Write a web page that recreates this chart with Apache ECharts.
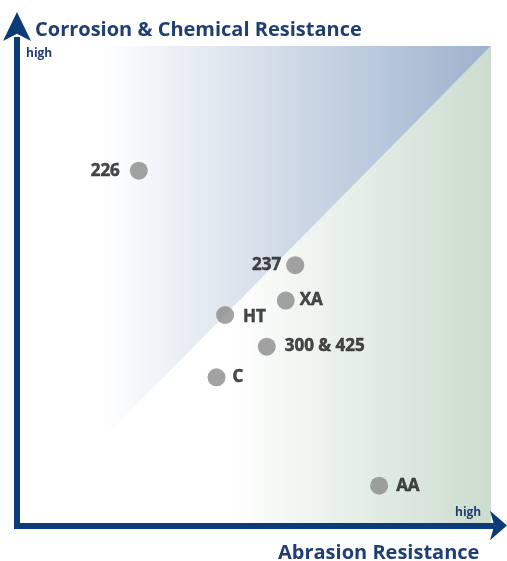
<!DOCTYPE html>
<html>
<head>
<meta charset="utf-8">
<script src="https://cdn.jsdelivr.net/npm/echarts@6/dist/echarts.min.js"></script>
<style>
  html, body { margin: 0; padding: 0; background: #ffffff; }
  #chart { width: 507px; height: 561px; }
</style>
</head>
<body>
<div id="chart"></div>
<script>
// Product grades positioned by abrasion vs. corrosion/chemical resistance
const grades = ['226', '237', 'XA', 'HT', '300 & 425', 'C', 'AA'];
const abrasion = [2.57, 5.87, 5.67, 4.39, 5.27, 4.21, 7.64];
const corrosion = [7.40, 5.43, 4.69, 4.39, 3.73, 3.09, 0.83];

// Background zones (data space, 0..10 on both axes)
const corrosionZone = [[0, 0], [0, 10], [10, 10]];
const abrasionZone = [[0, 0], [10, 0], [10, 10]];

const axisTitleY = 'Corrosion & Chemical Resistance';
const axisTitleX = 'Abrasion Resistance';
const highLabel = 'high';

// Label placement for each grade
const labelPlacement = {
  '226':       { position: 'left',  distance: 10, offset: [0, 0] },
  '237':       { position: 'left',  distance: 5,  offset: [0, 0] },
  'XA':        { position: 'right', distance: 5,  offset: [0, 0] },
  'HT':        { position: 'right', distance: 9,  offset: [0, 2] },
  '300 & 425': { position: 'right', distance: 9,  offset: [0, 0] },
  'C':         { position: 'right', distance: 7,  offset: [0, 0] },
  'AA':        { position: 'right', distance: 8,  offset: [0, 0] }
};

const NAVY = '#0b3c77';
const TEXT_NAVY = '#203e74';
const LABEL_INK = '#1a1a1a';
const FONT = '"Open Sans", "Noto Sans", sans-serif';

const chart = echarts.init(document.getElementById('chart'));

function zoneSeries(vertices, stops, z) {
  return {
    type: 'custom',
    silent: true,
    z: z,
    data: [0],
    renderItem: function (params, api) {
      const pts = vertices.map(function (v) { return api.coord(v); });
      return {
        type: 'polygon',
        shape: { points: pts },
        style: {
          fill: new echarts.graphic.LinearGradient(0, 0, 1, 0, stops),
          stroke: null
        }
      };
    }
  };
}

const option = {
  backgroundColor: '#ffffff',
  animation: false,
  title: [
    {
      text: axisTitleY, left: 35, top: 20, padding: 0,
      textStyle: { fontFamily: FONT, fontWeight: 'bold', fontSize: 20, color: TEXT_NAVY }
    },
    {
      text: axisTitleX, left: 278, top: 543, padding: 0,
      textStyle: { fontFamily: FONT, fontWeight: 'bold', fontSize: 20, color: TEXT_NAVY }
    },
    {
      text: highLabel, left: 26, top: 48, padding: 0,
      textStyle: { fontFamily: FONT, fontWeight: 'bold', fontSize: 12, color: TEXT_NAVY }
    },
    {
      text: highLabel, left: 455, top: 507, padding: 0,
      textStyle: { fontFamily: FONT, fontWeight: 'bold', fontSize: 12, color: TEXT_NAVY }
    }
  ],
  grid: { left: 17, right: 16, top: 40, bottom: 35.5 },
  xAxis: {
    type: 'value', min: 0, max: 10, z: 10,
    axisLine: {
      show: true, onZero: false,
      symbol: ['none', 'arrow'], symbolSize: [22, 17], symbolOffset: [0, 16],
      lineStyle: { color: NAVY, width: 6, cap: 'square' }
    },
    axisTick: { show: false }, axisLabel: { show: false }, splitLine: { show: false }
  },
  yAxis: {
    // a little headroom above 10 leaves room for the arrow shaft
    type: 'value', min: 0, max: 10.125, z: 10,
    axisLine: {
      show: true, onZero: false,
      symbol: ['none', 'arrow'], symbolSize: [21, 29], symbolOffset: [0, 28],
      lineStyle: { color: NAVY, width: 6, cap: 'square' }
    },
    axisTick: { show: false }, axisLabel: { show: false }, splitLine: { show: false }
  },
  series: [
    zoneSeries(abrasionZone, [
      { offset: 0, color: '#ffffff' },
      { offset: 0.45, color: '#ffffff' },
      { offset: 1, color: '#cbdcce' }
    ], 0),
    zoneSeries(corrosionZone, [
      { offset: 0, color: '#ffffff' },
      { offset: 0.175, color: '#ffffff' },
      { offset: 1, color: '#9db2cd' }
    ], 1),
    {
      type: 'scatter',
      z: 5,
      symbolSize: 18,
      itemStyle: { color: '#8b8b8b' },
      data: grades.map(function (g, i) {
        const p = labelPlacement[g];
        return {
          name: g,
          value: [abrasion[i], corrosion[i]],
          label: { position: p.position, distance: p.distance, offset: p.offset }
        };
      }),
      label: {
        show: true,
        formatter: '{b}',
        fontFamily: FONT,
        fontWeight: 'bold',
        fontSize: 17,
        color: LABEL_INK,
        textBorderColor: LABEL_INK,
        textBorderWidth: 0.5
      }
    }
  ]
};

chart.setOption(option);
</script>
</body>
</html>
